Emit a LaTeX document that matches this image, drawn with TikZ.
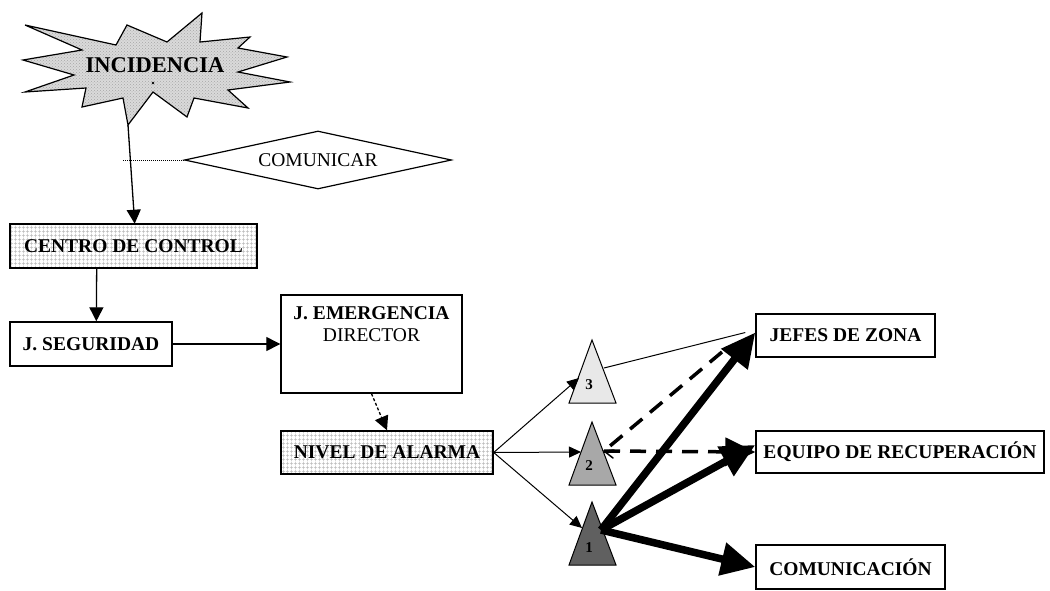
\documentclass[tikz,border=0pt]{standalone}
\usepackage{fontspec}
\setmainfont{Liberation Serif}
\usetikzlibrary{shapes.geometric,patterns,patterns.meta,arrows.meta}
\definecolor{lightgraytri}{RGB}{232,232,232}
\definecolor{midgraytri}{RGB}{168,168,168}
\definecolor{darkgraytri}{RGB}{96,96,96}
\definecolor{gridgray}{RGB}{185,185,185}
\definecolor{burstgray}{RGB}{218,218,218}
\tikzset{
  box/.style={draw, line width=1.4pt, inner sep=0pt, font=\fontsize{19.5}{22}\selectfont\bfseries},
  gridbox/.style={box, pattern={Hatch[angle=0,distance=4pt,line width=0.6pt]}, pattern color=gridgray},
  conn/.style={line width=1.3pt, -{Triangle[length=14pt,width=14pt]}},
  thinconn/.style={line width=1pt, -{Triangle[length=12pt,width=11pt]}},
  fatconn/.style={line width=7.5pt, -{Triangle[length=34pt,width=32pt]}},
  dashconn/.style={line width=3.5pt, dash pattern=on 16pt off 10pt},
  tri/.style={draw, line width=1pt},
  trilabel/.style={inner sep=0pt, font=\fontsize{15}{15}\selectfont\bfseries}
}
\begin{document}
\begin{tikzpicture}[x=1pt,y=-1pt]
            \useasboundingbox (0,0) rectangle (1050,590);
            % incidencia burst
            \draw[line width=1.2pt, preaction={fill=burstgray}, pattern=crosshatch dots, pattern color=gray!70]
                (25,25) -- (82,50) -- (23,60) -- (74,75) -- (25,92) -- (86,88) -- (82,107) -- (123,98)
                -- (128,125) -- (153,92) -- (187,117) -- (194,98) -- (248,108) -- (228,90) -- (290,82)
                -- (238,72) -- (287,57) -- (238,48) -- (250,37) -- (200,42) -- (202,13) -- (167,42)
                -- (127,25) -- (116,45) -- cycle;
            \node[inner sep=0pt, font=\fontsize{22.5}{22.5}\selectfont\bfseries] (incid) at (155,65) {INCIDENCIA};
            \fill (153,83) circle (1.3);
            \coordinate (burstbot) at (128,125);
            % comunicar
            \node[draw, diamond, aspect=4.6, line width=1.2pt, inner sep=0pt, minimum width=267pt, minimum height=58pt,
                  font=\fontsize{19.5}{22}\selectfont] (comunicar) at (318,160) {COMUNICAR};
            \coordinate (tap) at (122,160);
            % boxes
            \node[gridbox, minimum width=247pt, minimum height=44pt] (centro) at (133.5,246) {CENTRO DE CONTROL};
            \node[box, minimum width=162pt, minimum height=44pt] (seguridad) at (91,344) {J. SEGURIDAD};
            \node[box, minimum width=181pt, minimum height=98pt] (emerg) at (371.5,344) {};
            \node[inner sep=0pt, align=center, font=\fontsize{19.5}{22}\selectfont, anchor=north] (emergtxt) at (371.5,306)
                {\bfseries J. EMERGENCIA\\DIRECTOR};
            \node[gridbox, minimum width=212pt, minimum height=43pt] (nivel) at (387,452.5) {NIVEL DE ALARMA};
            \node[box, minimum width=179pt, minimum height=43pt] (jefes) at (845.5,335.5) {JEFES DE ZONA};
            \node[box, minimum width=288pt, minimum height=42pt] (equipo) at (900,452) {EQUIPO DE RECUPERACIÓN};
            \node[box, minimum width=189pt, minimum height=44pt] (comunic) at (850.5,567) {COMUNICACIÓN};
            % alarm levels
            \draw[tri, fill=lightgraytri] (592,340) -- (569,403) -- (616,403) -- cycle;
            \draw[tri, fill=midgraytri] (592,422) -- (569,485) -- (616,485) -- cycle;
            \draw[tri, fill=darkgraytri] (592,502) -- (569,565) -- (616,565) -- cycle;
            \node[trilabel] (n3) at (589,385) {3};
            \node[trilabel] (n2) at (589,466) {2};
            \node[trilabel] (n1) at (589,548) {1};
            \coordinate (t3in) at (579,378);
            \coordinate (t2in) at (581,452);
            \coordinate (t1in) at (582,528);
            \coordinate (t3out) at (604,368);
            \coordinate (t2out) at (604,451);
            \coordinate (t1out) at (601,530);
            \coordinate (jefesdash) at (722,352);
            % connectors
            \draw[conn] (burstbot) -- ([xshift=125pt]centro.north west);
            \draw[line width=1pt, densely dotted] (comunicar.west) -- (tap);
            \draw[conn] ([xshift=87pt]centro.south west) -- ([xshift=87pt]seguridad.north west);
            \draw[conn] (seguridad) -- (emerg);
            \draw[conn, densely dashed] (emerg.south) -- (nivel.north);
            \draw[thinconn] (nivel.east) -- (t3in);
            \draw[thinconn] (nivel.east) -- (t2in);
            \draw[thinconn] (nivel.east) -- (t1in);
            \draw[line width=1pt] (t3out) -- ([xshift=-10pt,yshift=3pt]jefes.west);
            \draw[dashconn] (jefesdash) -- (t2out);
            \draw[line width=1.5pt, line cap=round] ([xshift=9pt,yshift=-7pt]t2out) -- (t2out) -- ([xshift=10pt,yshift=1pt]t2out);
            \draw[dashconn, -{Triangle[length=30pt,width=28pt]}] (t2out) -- (equipo.west);
            \draw[fatconn] (t1out) -- ([yshift=3pt]jefes.west);
            \draw[fatconn] (t1out) -- ([yshift=7pt]equipo.west);
            \draw[fatconn] (t1out) -- (comunic.west);
        \end{tikzpicture}
\end{document}
